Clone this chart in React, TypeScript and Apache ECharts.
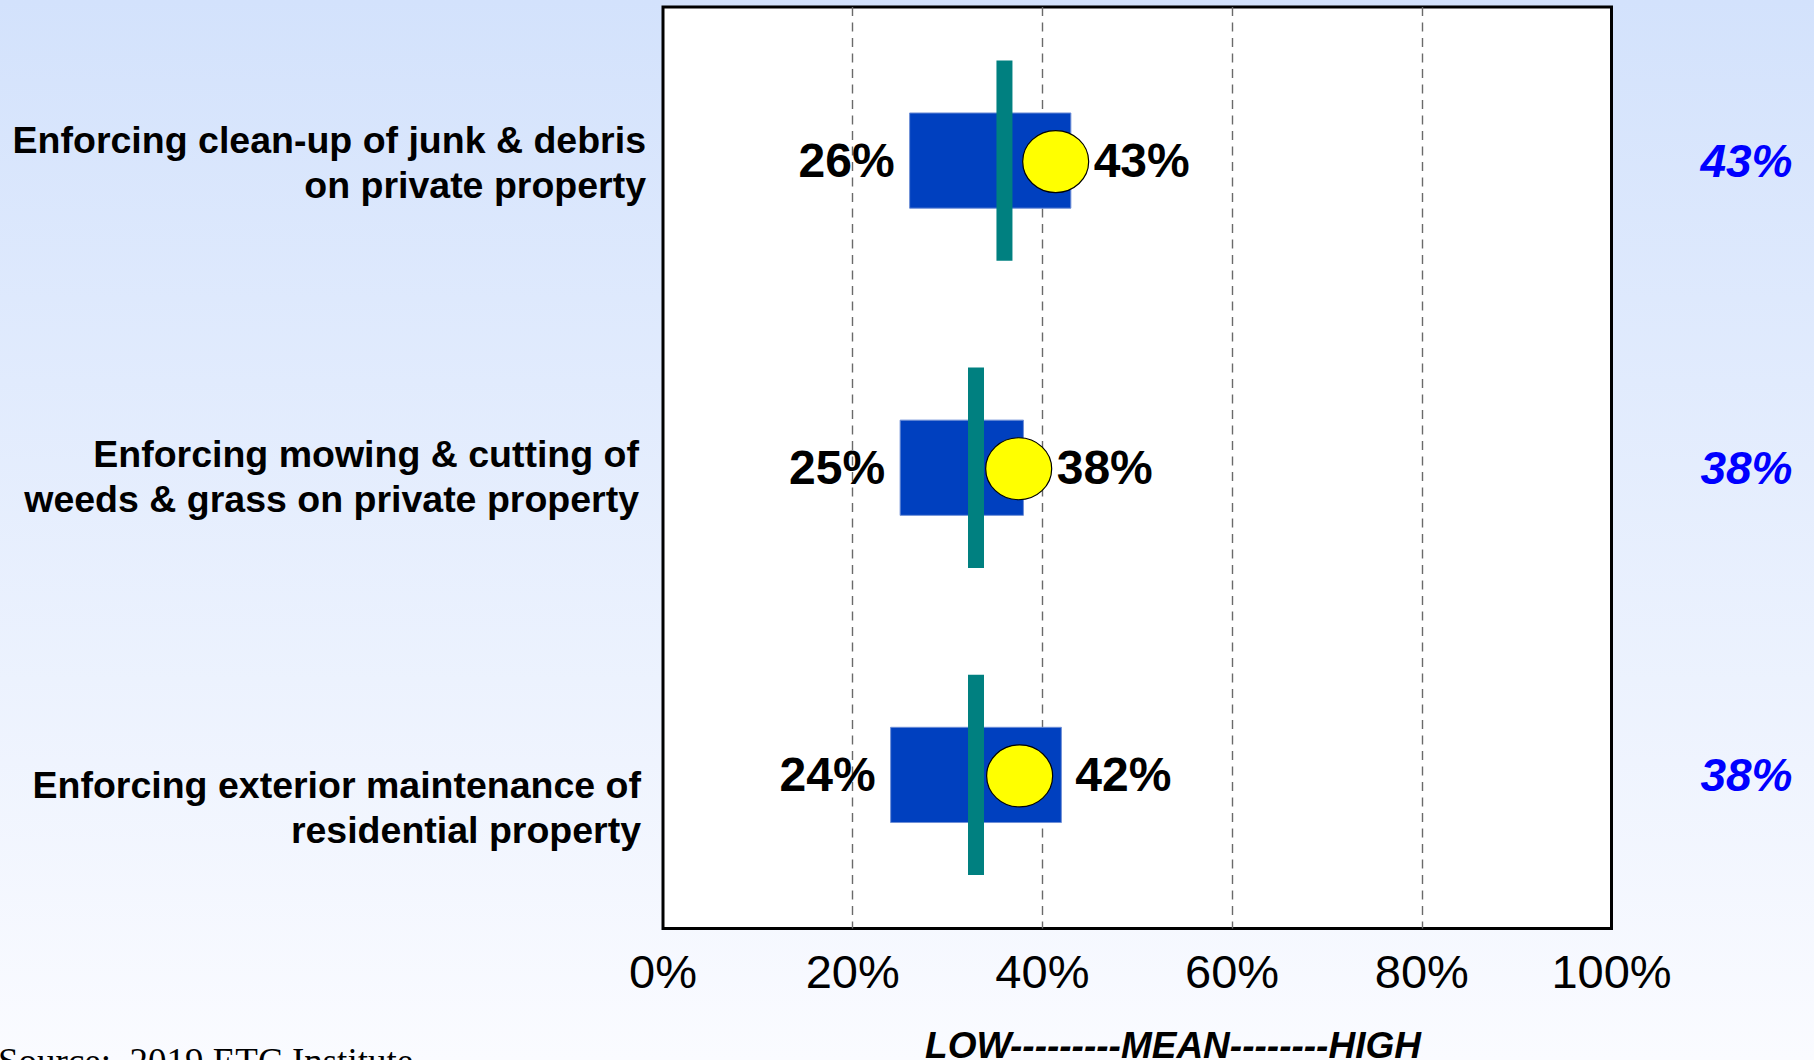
import React, { useEffect, useRef } from 'react';
import * as echarts from 'echarts';

const categories = [
  'Enforcing clean-up of junk & debris\non private property',
  'Enforcing mowing & cutting of\nweeds & grass on private property',
  'Enforcing exterior maintenance of\nresidential property',
];
const lowValues = [26, 25, 24];
const highValues = [43, 38, 42];
const meanValues = [36, 33, 33];
const markerValues = [41.4, 37.5, 37.6];
const cityLabels = ['43%', '38%', '38%'];
const axisMin = 0;
const axisMax = 100;
const axisStep = 20;
const scaleCaption = 'LOW---------MEAN--------HIGH';
const sourceText = 'Source:  2019 ETC Institute';

// label placement nudges (pixels), kept apart from the data
const catLabelDx = [2, -5, -3];
const catLabelDy = [1.5, 9, 33];

const SANS = "'Liberation Sans', Arial, Helvetica, sans-serif";
const SERIF = "'Liberation Serif', 'Times New Roman', serif";

export default function App() {
  const ref = useRef<HTMLDivElement>(null);

  useEffect(() => {
    if (!ref.current) return;
    const chart = echarts.init(ref.current, undefined, { renderer: 'svg' });

    const seriesData = categories.map((_, i) => [
      i,
      lowValues[i],
      highValues[i],
      meanValues[i],
      markerValues[i],
    ]);

    const option: any = {
      animation: false,
      backgroundColor: {
        type: 'linear',
        x: 0,
        y: 0,
        x2: 0,
        y2: 1,
        colorStops: [
          { offset: 0, color: '#D3E2FC' },
          { offset: 1, color: '#FAFBFF' },
        ],
      },
      grid: {
        left: 663,
        top: 7,
        width: 948.5,
        height: 921.5,
        show: true,
        backgroundColor: '#FFFFFF',
        borderColor: '#000000',
        borderWidth: 3,
        z: 0,
      },
      xAxis: {
        type: 'value',
        min: axisMin,
        max: axisMax,
        interval: axisStep,
        axisLine: { show: false },
        axisTick: { show: false },
        axisLabel: {
          formatter: '{value}%',
          fontSize: 47,
          fontFamily: SANS,
          color: '#000000',
          margin: 19,
        },
        splitLine: {
          show: true,
          showMinLine: false,
          showMaxLine: false,
          lineStyle: { color: '#6A6A6A', width: 1.4, type: [9, 6.5] },
        },
      },
      yAxis: [
        {
          type: 'category',
          data: categories,
          inverse: true,
          axisLine: { show: false },
          axisTick: { show: false },
          splitLine: { show: false },
          axisLabel: { show: false },
        },
        {
          type: 'category',
          data: cityLabels,
          inverse: true,
          position: 'right',
          axisLine: { show: false },
          axisTick: { show: false },
          splitLine: { show: false },
          axisLabel: {
            fontSize: 46,
            fontWeight: 'bold',
            fontStyle: 'italic',
            fontFamily: SANS,
            color: '#0000FF',
            align: 'right',
            margin: 181,
          },
        },
      ],
      series: [
        {
          type: 'custom',
          yAxisIndex: 0,
          encode: { y: 0, x: [1, 2, 3, 4] },
          data: seriesData,
          clip: false,
          z: 5,
          renderItem: (params: any, api: any) => {
            const cat = api.value(0);
            const low = api.value(1);
            const high = api.value(2);
            const mean = api.value(3);
            const mk = api.value(4);
            const p0 = api.coord([axisMin, cat]);
            const pl = api.coord([low, cat]);
            const ph = api.coord([high, cat]);
            const pm = api.coord([mean, cat]);
            const pk = api.coord([mk, cat]);
            const yc = pl[1];
            const band = api.size([0, 1])[1];
            const boxH = band * 0.31;
            const tealH = band * 0.652;
            const tealW = 16;
            const rx = 33;
            const ry = 31;
            const rightX = Math.max(ph[0] + 14, pk[0] + rx + 5);
            const labelStyle = {
              fontSize: 48,
              fontWeight: 'bold',
              fontFamily: SANS,
              fill: '#000000',
              verticalAlign: 'middle',
            };
            return {
              type: 'group',
              children: [
                {
                  type: 'rect',
                  shape: { x: pl[0], y: yc - boxH / 2, width: ph[0] - pl[0], height: boxH },
                  style: { fill: '#0040BF', stroke: '#6F8FD6', lineWidth: 1 },
                },
                {
                  type: 'rect',
                  shape: { x: pm[0] - tealW / 2, y: yc - tealH / 2, width: tealW, height: tealH },
                  style: { fill: '#008080' },
                },
                {
                  type: 'ellipse',
                  shape: { cx: pk[0], cy: yc + 1, rx, ry },
                  style: { fill: '#FFFF00', stroke: '#000000', lineWidth: 1.2 },
                },
                {
                  type: 'text',
                  x: pl[0] - 15,
                  y: yc,
                  style: { ...labelStyle, text: low + '%', align: 'right' },
                },
                {
                  type: 'text',
                  x: rightX,
                  y: yc,
                  style: { ...labelStyle, text: high + '%', align: 'left' },
                },
                {
                  type: 'text',
                  x: p0[0] - 19 + catLabelDx[cat],
                  y: yc + catLabelDy[cat],
                  style: {
                    text: categories[cat],
                    fontSize: 37.5,
                    fontWeight: 'bold',
                    fontFamily: SANS,
                    fill: '#000000',
                    lineHeight: 45,
                    align: 'right',
                    verticalAlign: 'middle',
                  },
                },
              ],
            };
          },
        },
      ],
      graphic: [
        {
          type: 'text',
          x: 1173,
          y: 1045,
          z: 10,
          style: {
            text: scaleCaption,
            fontSize: 37,
            fontWeight: 'bold',
            fontStyle: 'italic',
            fontFamily: SANS,
            fill: '#000000',
            align: 'center',
            verticalAlign: 'middle',
          },
        },
        {
          type: 'text',
          x: -2,
          y: 1061,
          z: 10,
          style: {
            text: sourceText,
            fontSize: 37,
            fontFamily: SERIF,
            fill: '#000000',
            align: 'left',
            verticalAlign: 'middle',
          },
        },
      ],
    };

    chart.setOption(option);
    return () => {
      chart.dispose();
    };
  }, []);

  return (
    <div
      ref={ref}
      style={{ position: 'absolute', left: 0, top: 0, width: 1814, height: 1060 }}
    />
  );
}
